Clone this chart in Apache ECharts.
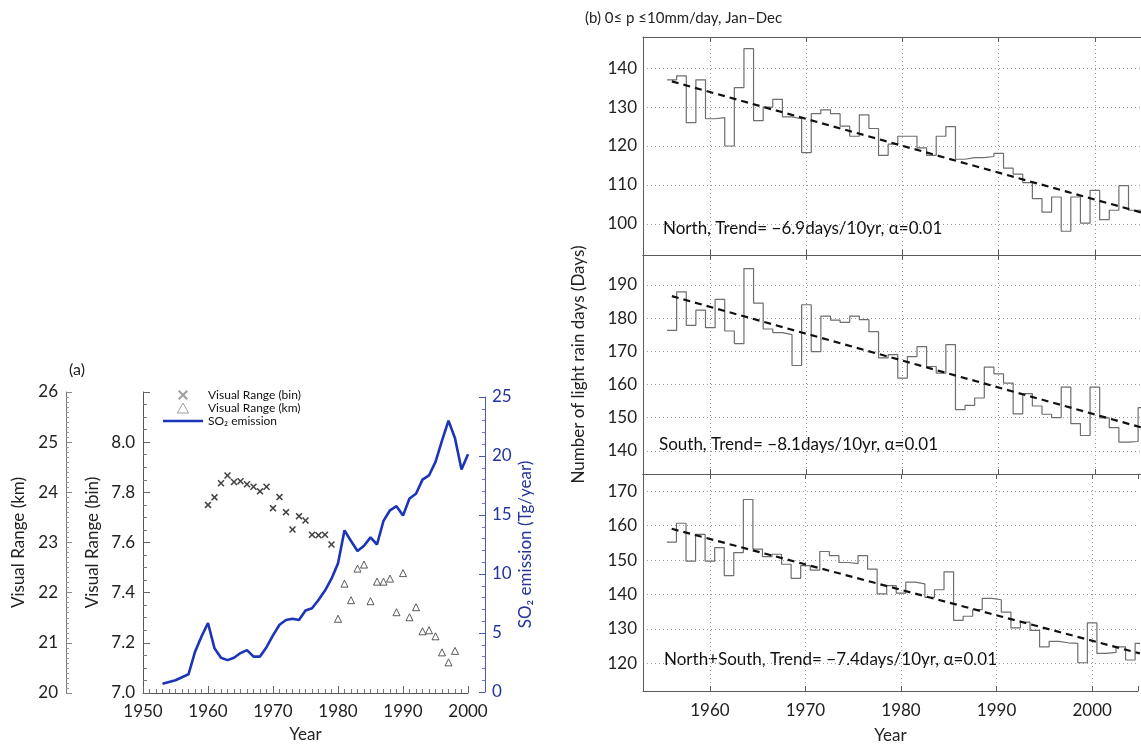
<!DOCTYPE html>
<html><head><meta charset="utf-8">
<script src="https://cdn.jsdelivr.net/npm/echarts@6/dist/echarts.min.js"></script>
<style>html,body{margin:0;padding:0;background:#fff}#c{width:1141px;height:745px}</style>
</head><body><div id="c"></div>
<script>
// ---------- Panel (a) data ----------
const binYears = [1960,1961,1962,1963,1964,1965,1966,1967,1968,1969,1970,1971,1972,1973,1974,1975,1976,1977,1978,1979];
const binVals  = [7.750,7.780,7.836,7.867,7.841,7.844,7.832,7.822,7.804,7.822,7.737,7.781,7.721,7.652,7.705,7.688,7.631,7.629,7.631,7.592];
const kmYears = [1980,1981,1982,1983,1984,1985,1986,1987,1988,1989,1990,1991,1992,1993,1994,1995,1996,1997,1998];
const kmVals  = [21.48,22.18,21.85,22.48,22.56,21.83,22.22,22.22,22.28,21.61,22.39,21.51,21.71,21.23,21.25,21.13,20.81,20.61,20.84];
const so2Years = [1953,1954,1955,1956,1957,1958,1959,1960,1961,1962,1963,1964,1965,1966,1967,1968,1969,1970,1971,1972,1973,1974,1975,1976,1977,1978,1979,1980,1981,1982,1983,1984,1985,1986,1987,1988,1989,1990,1991,1992,1993,1994,1995,1996,1997,1998,1999,2000];
const so2Vals  = [0.7,0.85,1.0,1.25,1.5,3.4,4.7,5.85,3.7,2.9,2.7,2.9,3.3,3.55,3.0,3.0,3.8,4.8,5.7,6.1,6.2,6.1,6.9,7.1,7.8,8.6,9.6,10.9,13.7,12.8,11.95,12.4,13.1,12.5,14.5,15.4,15.75,14.95,16.4,16.8,18.0,18.35,19.5,21.3,23.0,21.5,18.85,20.15];

// ---------- Panel (b) data ----------
const rainYears = [1956,1957,1958,1959,1960,1961,1962,1963,1964,1965,1966,1967,1968,1969,1970,1971,1972,1973,1974,1975,1976,1977,1978,1979,1980,1981,1982,1983,1984,1985,1986,1987,1988,1989,1990,1991,1992,1993,1994,1995,1996,1997,1998,1999,2000,2001,2002,2003,2004,2005];
const northDays = [137,138,126,137,127,127.3,120,135,145,126.5, 130,132,127.5,127,118.3,128.3,129.3,128.3,125.1,122.5, 128,124.5,117.6,120.5,122.5,122.5,119.5,117.6,122.5,125, 116.6,117,117,117.3,118.1,114.3,112.8,110.6,106.5,103, 106.9,98.1,106.9,100.2,108.6,101.1,103.5,109.8,103.5,103.5];
const southDays = [176.3,187.9,177.8,182.4,177.1,185.6,176.1,172.3,194.9,184.5, 176.7,175.6,175,165.7,184,169.9,180.6,179.4,178.7,180.6, 179.5,175.9,168,169,161.9,168.4,171.4,165.4,163.4,172, 152.4,153.7,155.9,165.2,163.2,160.4,151.1,157.2,153.5,151, 150,159.2,148.2,144.6,159.2,149.9,147,142.6,142.8,153];
const bothDays  = [155.2,160.7,149.7,157.5,149.7,153.6,145.5,152.2,167.6,153.2, 151,151.7,148.8,144.7,148.4,147.1,152.5,151.3,149.3,149, 151.3,147.4,140.2,142.6,140.4,143.6,143.1,139.2,141.4,146.6, 132.5,133.7,135.6,138.9,138.5,134.9,130.3,132,129.6,124.8, 126.4,126,125.8,120.2,131.8,122.9,123.2,124.8,121,125.8];
const trendYears = [1956, 2005];
const northTrend = [136.6, 102.8];
const southTrend = [186.6, 146.9];
const bothTrend  = [159.1, 122.9];
const trendLabels = ['North, Trend= \u22126.9days/10yr, \u03b1=0.01', 'South, Trend= \u22128.1days/10yr, \u03b1=0.01', 'North+South, Trend= \u22127.4days/10yr, \u03b1=0.01'];
const bXRange = [1953, 2004.8];

const FONT = 'Lato, "Liberation Sans", sans-serif';
const BLUE = '#1b34b8';
const BLUE_TXT = '#23349a';

function pairs(xs, ys){ return xs.map((x,i)=>[x, ys[i]]); }
function steps(xs, ys){
  const d = xs.map((x,i)=>[x-0.5, ys[i]]);
  d.push([xs[xs.length-1]+0.5, ys[ys.length-1]]);
  return d;
}
const xMark = 'path://M0,1.5L1.5,0L5,3.5L8.5,0L10,1.5L6.5,5L10,8.5L8.5,10L5,6.5L1.5,10L0,8.5L3.5,5Z';
const triMark = 'path://M5,0L10,9L0,9Z';
const lineMark = 'path://M0,0L40,0L40,2.6L0,2.6Z';
const FRAME = '#5a5a5a';

const bGrid = (top,h)=>({left:643, top:top, width:498, height:h, show:false});
const bX = (idx, pos, showLabels)=>({
  type:'value', gridIndex:idx, position:pos, min:bXRange[0], max:bXRange[1], splitNumber:5,
  axisLine:{show:true, onZero:false, lineStyle:{color:FRAME, width:1}},
  axisTick:{show:true, inside:true, length:5, lineStyle:{color:FRAME}},
  axisLabel:{show:showLabels, fontSize:17, color:'#222', margin:11, formatter:v=> (v%10===0? String(v):'')},
  splitLine:{show:pos==='bottom', showMinLine:false, showMaxLine:false, lineStyle:{color:'#9a9a9a', type:[1,3], width:1}},
  name: showLabels? 'Year':'', nameLocation:'middle', nameGap:36, nameTextStyle:{fontSize:17, color:'#222'}
});
const bY = (idx, mn, mx, name)=>({
  type:'value', gridIndex:idx, min:mn, max:mx, splitNumber:5,
  axisLine:{show:true, onZero:false, lineStyle:{color:FRAME, width:1}}, axisTick:{show:false},
  axisLabel:{fontSize:17, color:'#222', margin:6, formatter:v=> (v%10===0? String(v):'')},
  splitLine:{show:true, showMinLine:false, showMaxLine:false, lineStyle:{color:'#9a9a9a', type:[1,3], width:1}},
  name:name||'', nameLocation:'middle', nameGap:56, nameTextStyle:{fontSize:17, color:'#222'}
});

const option = {
  animation:false,
  textStyle:{fontFamily:FONT},
  title:[
    {text:'(a)', left:64, top:357, textStyle:{fontSize:16, fontWeight:'normal', color:'#222', fontFamily:FONT}},
    {text:'(b) 0\u2264 p \u226410mm/day, Jan\u2013Dec', left:580, top:6, textStyle:{fontSize:15, fontWeight:'normal', color:'#222', fontFamily:FONT}}
  ],
  legend:{
    orient:'vertical', left:158, top:384, itemWidth:40, itemHeight:10, itemGap:1, selectedMode:false,
    textStyle:{fontSize:12, color:'#111'},
    data:[
      {name:'Visual Range (bin)', icon:xMark, itemStyle:{color:'#8a8a8a'}},
      {name:'Visual Range (km)', icon:triMark, itemStyle:{color:'rgba(255,255,255,0)', borderColor:'#8a8a8a', borderWidth:1}},
      {name:'SO\u2082 emission', icon:lineMark, itemStyle:{color:BLUE}}
    ]
  },
  grid:[
    {left:143, top:392, width:325, height:301},
    {left:143, top:397, width:325, height:295},
    bGrid(37,218), bGrid(255,219), bGrid(474,217)
  ],
  xAxis:[
    {type:'value', gridIndex:0, min:1950, max:2000, interval:10,
     axisLine:{lineStyle:{color:'#555'}}, axisTick:{inside:true, length:7, lineStyle:{color:'#666'}},
     minorTick:{show:true, splitNumber:10, length:4, lineStyle:{color:'#777'}},
     axisLabel:{fontSize:17, color:'#222', margin:10, formatter:v=>String(v)}, splitLine:{show:false},
     name:'Year', nameLocation:'middle', nameGap:33, nameTextStyle:{fontSize:17, color:'#222'}},
    {type:'value', gridIndex:1, min:1950, max:2000, show:false},
    bX(2,'bottom',false), bX(3,'bottom',false), bX(4,'bottom',true),
    bX(2,'top',false), bX(3,'top',false), bX(4,'top',false)
  ],
  yAxis:[
    {type:'value', gridIndex:0, position:'left', min:7.0, max:8.2, interval:0.2,
     axisLine:{show:true, lineStyle:{color:'#555'}}, axisTick:{show:true, inside:true, length:7, lineStyle:{color:'#666'}},
     minorTick:{show:true, splitNumber:4, length:4, lineStyle:{color:'#777'}},
     axisLabel:{fontSize:17, color:'#222', margin:8, formatter:v=> (v>8.1? '': v.toFixed(1))}, splitLine:{show:false},
     name:'Visual Range (bin)', nameLocation:'middle', nameGap:42, nameTextStyle:{fontSize:17, color:'#222'}},
    {type:'value', gridIndex:0, position:'left', offset:77, min:20, max:26, interval:1,
     axisLine:{show:true, lineStyle:{color:'#777'}}, axisTick:{show:true, inside:true, length:6, lineStyle:{color:'#888'}},
     minorTick:{show:true, splitNumber:10, length:3, lineStyle:{color:'#999'}},
     axisLabel:{fontSize:17, color:'#222', margin:8}, splitLine:{show:false},
     name:'Visual Range (km)', nameLocation:'middle', nameGap:39, nameTextStyle:{fontSize:17, color:'#222'}},
    {type:'value', gridIndex:1, position:'right', offset:17, min:0, max:25, interval:5,
     axisLine:{show:true, lineStyle:{color:'#4a58b0'}}, axisTick:{show:true, inside:true, length:6, lineStyle:{color:'#4a58b0'}},
     minorTick:{show:true, splitNumber:5, length:3, lineStyle:{color:'#6c78c0'}},
     axisLabel:{fontSize:17, color:BLUE_TXT, margin:7}, splitLine:{show:false},
     name:'SO\u2082 emission (Tg/year)', nameLocation:'middle', nameGap:32, nameTextStyle:{fontSize:17, color:BLUE_TXT}},
    bY(2,92,148), bY(3,133,199,'Number of light rain days (Days)'), bY(4,112,175)
  ],
  series:[
    {name:'Visual Range (bin)', type:'scatter', xAxisIndex:0, yAxisIndex:0, data:pairs(binYears,binVals),
     symbol:xMark, symbolSize:7, itemStyle:{color:'#111'}},
    {name:'Visual Range (km)', type:'scatter', xAxisIndex:0, yAxisIndex:1, data:pairs(kmYears,kmVals),
     symbol:'triangle', symbolSize:7, itemStyle:{color:'#fff', borderColor:'#333', borderWidth:1}},
    {name:'SO\u2082 emission', type:'line', xAxisIndex:1, yAxisIndex:2, data:pairs(so2Years,so2Vals),
     symbol:'none', lineStyle:{color:BLUE, width:2.6}, itemStyle:{color:BLUE}},

    {type:'line', xAxisIndex:2, yAxisIndex:3, data:steps(rainYears,northDays), step:'end', symbol:'none', lineStyle:{color:'#6e6e6e', width:1.2}},
    {type:'line', xAxisIndex:2, yAxisIndex:3, data:pairs(trendYears,northTrend), symbol:'none', lineStyle:{color:'#111', width:2.2, type:[7,5]}},
    {type:'line', xAxisIndex:3, yAxisIndex:4, data:steps(rainYears,southDays), step:'end', symbol:'none', lineStyle:{color:'#6e6e6e', width:1.2}},
    {type:'line', xAxisIndex:3, yAxisIndex:4, data:pairs(trendYears,southTrend), symbol:'none', lineStyle:{color:'#111', width:2.2, type:[7,5]}},
    {type:'line', xAxisIndex:4, yAxisIndex:5, data:steps(rainYears,bothDays), step:'end', symbol:'none', lineStyle:{color:'#6e6e6e', width:1.2}},
    {type:'line', xAxisIndex:4, yAxisIndex:5, data:pairs(trendYears,bothTrend), symbol:'none', lineStyle:{color:'#111', width:2.2, type:[7,5]}}
  ],
  graphic:[
    {type:'text', left:663, top:220, style:{text:trendLabels[0], font:'17px '+FONT, fill:'#111'}},
    {type:'text', left:659, top:436, style:{text:trendLabels[1], font:'17px '+FONT, fill:'#111'}},
    {type:'text', left:664, top:651, style:{text:trendLabels[2], font:'17px '+FONT, fill:'#111'}}
  ]
};
const chart = echarts.init(document.getElementById('c'), null, {renderer:'canvas'});
chart.setOption(option);
</script>
</body></html>
